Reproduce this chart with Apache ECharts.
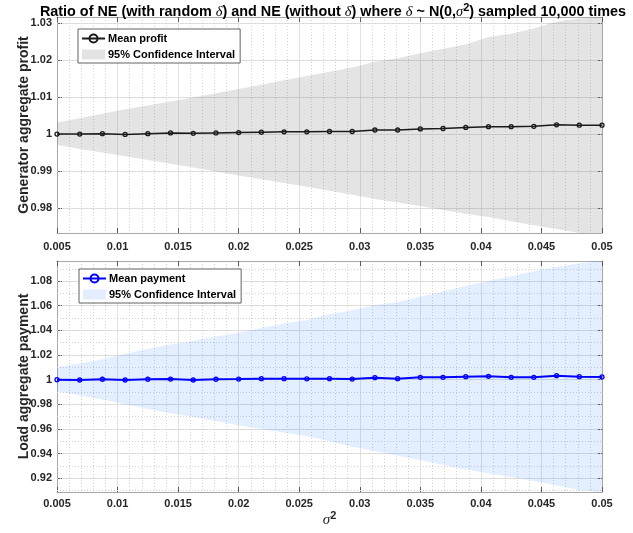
<!DOCTYPE html>
<html><head><meta charset="utf-8">
<script src="https://cdn.jsdelivr.net/npm/echarts@6/dist/echarts.min.js"></script>
<style>html,body{margin:0;padding:0;background:#fff}#c{width:633px;height:533px}</style>
</head><body><div id="c"></div>
<script>
// ---- data ----
const sigma2 = [0.005, 0.006875, 0.00875, 0.010625, 0.0125, 0.014375, 0.01625, 0.018125, 0.02,
  0.021875, 0.02375, 0.025625, 0.0275, 0.029375, 0.03125, 0.033125, 0.035, 0.036875, 0.03875,
  0.040625, 0.0425, 0.044375, 0.04625, 0.048125, 0.05];
const profitMean = [1.0000, 1.0000, 1.0001, 0.9999, 1.0001, 1.0003, 1.0002, 1.0003, 1.0004, 1.0005,
  1.0006, 1.0006, 1.0007, 1.0007, 1.0011, 1.0011, 1.0014, 1.0015, 1.0018, 1.0020, 1.0020, 1.0021,
  1.0025, 1.0024, 1.0024];
const profitUpper = [1.0031, 1.0043, 1.0055, 1.0067, 1.0077, 1.0088, 1.0099, 1.0110, 1.0122, 1.0133,
  1.0145, 1.0157, 1.0168, 1.0180, 1.0195, 1.0205, 1.0218, 1.0230, 1.0242, 1.0262, 1.0271, 1.0285,
  1.0304, 1.0312, 1.0316];
const profitLower = [0.9971, 0.9960, 0.9950, 0.9940, 0.9930, 0.9920, 0.9910, 0.9899, 0.9888, 0.9878,
  0.9868, 0.9858, 0.9847, 0.9836, 0.9825, 0.9815, 0.9806, 0.9795, 0.9785, 0.9776, 0.9765, 0.9754,
  0.9744, 0.9733, 0.9733];
const paymentMean = [1.0000, 0.9997, 1.0003, 0.9997, 1.0003, 1.0005, 0.9997, 1.0003, 1.0005, 1.0008,
  1.0008, 1.0007, 1.0008, 1.0005, 1.0016, 1.0008, 1.0019, 1.0019, 1.0024, 1.0027, 1.0019, 1.0019,
  1.0032, 1.0024, 1.0022];
const paymentUpper = [1.0101, 1.0131, 1.0165, 1.0210, 1.0250, 1.0285, 1.0315, 1.0350, 1.0381, 1.0420,
  1.0455, 1.0485, 1.0530, 1.0563, 1.0604, 1.0630, 1.0672, 1.0715, 1.0760, 1.0800, 1.0840, 1.0880,
  1.0915, 1.0945, 1.0963];
const paymentLower = [0.9905, 0.9872, 0.9838, 0.9800, 0.9762, 0.9728, 0.9697, 0.9665, 0.9630, 0.9600,
  0.9570, 0.9540, 0.9500, 0.9456, 0.9420, 0.9383, 0.9346, 0.9310, 0.9270, 0.9240, 0.9210, 0.9178,
  0.9140, 0.9105, 0.9089];
const profitTicks = [0.98, 0.99, 1.00, 1.01, 1.02, 1.03];
const paymentTicks = [0.92, 0.94, 0.96, 0.98, 1.00, 1.02, 1.04, 1.06, 1.08];

// ---- helpers ----
const FONT = '"Liberation Sans", Arial, Helvetica, sans-serif';
const SERIF = '"Liberation Serif", "DejaVu Serif", serif';
const toXY = ys => sigma2.map((x, i) => [x, ys[i]]);
function minorVals(min, max, step, major) {
  const out = [];
  for (let k = Math.ceil(min / step - 1e-9); k * step <= max + 1e-12; k++) {
    const v = +(k * step).toFixed(6);
    const r = v / major;
    if (Math.abs(r - Math.round(r)) > 1e-6) out.push(v);
  }
  return out;
}
const PMIN = 0.9733, PMAX = 1.0316, LMIN = 0.9088, LMAX = 1.0963;
const axisLineColor = '#a8a8a8';
const tickColor = '#5a5a5a';
const labelStyle = { color: '#262626', fontWeight: 'bold', fontSize: 11, fontFamily: FONT };

function xMain(gridIndex, withName, margin) {
  return {
    type: 'value', gridIndex, min: 0.005, max: 0.05, interval: 0.005, position: 'bottom',
    axisLine: { show: true, onZero: false, lineStyle: { color: axisLineColor, width: 1 } },
    axisTick: { show: true, inside: true, length: 5, lineStyle: { color: tickColor } },
    axisLabel: Object.assign({ margin, formatter: v => String(+v.toFixed(3)) }, labelStyle),
    splitLine: { show: true, lineStyle: { color: '#e2e2e2', width: 1 } },
    minorTick: { show: false, splitNumber: 5 },
    minorSplitLine: { show: true, lineStyle: { color: '#d2d2d2', width: 1, type: [1, 2] } },
    name: withName ? '{g|σ}{s|2}' : '',
    nameLocation: 'middle', nameGap: 18, nameMoveOverlap: false,
    nameTextStyle: {
      rich: {
        g: { fontFamily: SERIF, fontStyle: 'italic', fontSize: 15, color: '#262626' },
        s: { fontFamily: FONT, fontWeight: 'bold', fontSize: 11, color: '#262626', padding: [0, 0, 10, 0] }
      }
    }
  };
}
function xTop(gridIndex) {
  return {
    type: 'value', gridIndex, min: 0.005, max: 0.05, interval: 0.005, position: 'top',
    axisLine: { show: true, onZero: false, lineStyle: { color: axisLineColor, width: 1 } },
    axisTick: { show: true, inside: true, length: 5, lineStyle: { color: tickColor } },
    axisLabel: { show: false }, splitLine: { show: false }
  };
}
function yMain(gridIndex, min, max, ticks, name) {
  return {
    type: 'value', gridIndex, min, max, position: 'left',
    axisLine: { show: true, onZero: false, lineStyle: { color: axisLineColor, width: 1 } },
    axisTick: { show: true, inside: true, length: 5, customValues: ticks, lineStyle: { color: tickColor } },
    axisLabel: Object.assign({ margin: 5, customValues: ticks, formatter: v => String(+v.toFixed(2)) }, labelStyle),
    splitLine: { show: true, lineStyle: { color: '#e2e2e2', width: 1 } },
    name, nameLocation: 'middle', nameGap: 26, nameRotate: 90, nameMoveOverlap: false,
    nameTextStyle: { color: '#262626', fontWeight: 'bold', fontSize: 14, fontFamily: FONT }
  };
}
function yRight(gridIndex, min, max, ticks) {
  return {
    type: 'value', gridIndex, min, max, position: 'right',
    axisLine: { show: true, onZero: false, lineStyle: { color: axisLineColor, width: 1 } },
    axisTick: { show: true, inside: true, length: 5, customValues: ticks, lineStyle: { color: tickColor } },
    axisLabel: { show: false }, splitLine: { show: false }
  };
}
function minorMarkLine(vals) {
  return {
    silent: true, symbol: 'none', animation: false, z: 1,
    label: { show: false },
    lineStyle: { type: [1, 2], color: '#d2d2d2', width: 1 },
    emphasis: { disabled: true },
    data: vals.map(v => ({ yAxis: v }))
  };
}
function bandSeries(xi, yi, lower, upper, fill) {
  return {
    name: '95% Confidence Interval', type: 'custom', xAxisIndex: xi, yAxisIndex: yi, z: 2,
    silent: true, clip: true,
    data: sigma2.map((x, i) => [x, lower[i], upper[i]]),
    encode: { x: 0, y: [1, 2] },
    itemStyle: { color: fill },
    renderItem: function (params, api) {
      if (params.dataIndex !== 0) return null;
      const pts = [];
      for (let i = 0; i < sigma2.length; i++) pts.push(api.coord([sigma2[i], upper[i]]));
      for (let i = sigma2.length - 1; i >= 0; i--) pts.push(api.coord([sigma2[i], lower[i]]));
      return { type: 'polygon', shape: { points: pts }, style: { fill: fill } };
    }
  };
}
function meanSeries(xi, yi, name, vals, color, width, ml) {
  return {
    name, type: 'line', xAxisIndex: xi, yAxisIndex: yi, data: toXY(vals), z: 3,
    symbol: 'circle', symbolSize: 4, showAllSymbol: true,
    lineStyle: { color, width },
    itemStyle: { color: 'transparent', borderColor: color, borderWidth: 1.3 },
    markLine: ml
  };
}
function legend(left, top, meanName, fill) {
  return {
    left, top, orient: 'vertical', itemWidth: 23, itemHeight: 10, itemGap: 5,
    padding: [4, 5, 3, 3], backgroundColor: '#fff', borderColor: '#3a3a3a', borderWidth: 0.8,
    selectedMode: false,
    textStyle: { color: '#000', fontWeight: 'bold', fontSize: 11, fontFamily: FONT, padding: [0, 0, 0, -2] },
    data: [
      { name: meanName },
      { name: '95% Confidence Interval', icon: 'rect', itemStyle: { color: fill, borderWidth: 0 } }
    ]
  };
}

const GRAY = 'rgba(120,120,120,0.2)';
const BLUE = 'rgba(40,120,255,0.13)';

const option = {
  backgroundColor: '#fff',
  animation: false,
  title: {
    text: 'Ratio of NE (with random {g|δ}) and NE (without {g|δ}) where {g|δ} ~ N(0,{g|σ}{s|2}) sampled 10,000 times',
    left: 328, top: -3, textAlign: 'center',
    textStyle: {
      fontFamily: FONT, fontWeight: 'bold', fontSize: 14.4, color: '#000',
      rich: {
        g: { fontFamily: SERIF, fontStyle: 'italic', fontWeight: 'normal', fontSize: 14.4, color: '#000' },
        s: { fontFamily: FONT, fontWeight: 'bold', fontSize: 11, color: '#000', padding: [0, 0, 10, 0] }
      }
    }
  },
  legend: [
    legend(78, 29, 'Mean profit', '#e3e3e3'),
    legend(79, 269, 'Mean payment', '#e3edfd')
  ],
  grid: [
    { left: 57, top: 17, width: 545, height: 216, containLabel: false },
    { left: 57, top: 261, width: 545, height: 231, containLabel: false }
  ],
  xAxis: [xMain(0, false, 8), xTop(0), xMain(1, true, 6), xTop(1)],
  yAxis: [
    yMain(0, PMIN, PMAX, profitTicks, 'Generator aggregate profit'),
    yRight(0, PMIN, PMAX, profitTicks),
    yMain(1, LMIN, LMAX, paymentTicks, 'Load aggregate payment'),
    yRight(1, LMIN, LMAX, paymentTicks)
  ],
  series: [
    bandSeries(0, 0, profitLower, profitUpper, GRAY),
    meanSeries(0, 0, 'Mean profit', profitMean, '#1a1a1a', 1.5,
      minorMarkLine(minorVals(PMIN, PMAX, 0.002, 0.01))),
    bandSeries(2, 2, paymentLower, paymentUpper, BLUE),
    meanSeries(2, 2, 'Mean payment', paymentMean, '#0000ff', 2,
      minorMarkLine(minorVals(LMIN, LMAX, 0.004, 0.02)))
  ]
};
const chart = echarts.init(document.getElementById('c'), null, { renderer: 'canvas' });
chart.setOption(option);
</script>
</body></html>
